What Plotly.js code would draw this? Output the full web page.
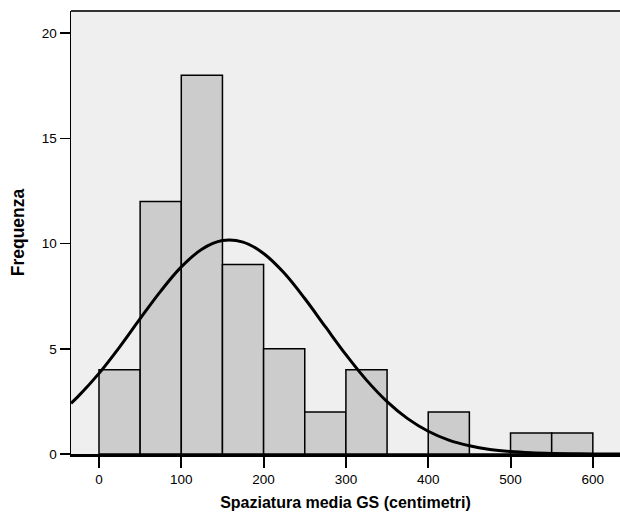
<!DOCTYPE html>
<html>
<head>
<meta charset="utf-8">
<script src="https://cdn.plot.ly/plotly-3.0.1.min.js"></script>
<style>html,body{margin:0;padding:0;background:#fff;}#chart{width:620px;height:518px;}</style>
</head>
<body>
<div id="chart"></div>
<script>
// Histogram bins (centimetri) and frequencies
var binStarts = [0, 50, 100, 150, 200, 250, 300, 350, 400, 450, 500, 550];
var binWidth = 50;
var counts = [4, 12, 18, 9, 5, 2, 4, 0, 2, 0, 1, 1];

// Normal curve
var curveX = [-34, -25, 0, 25, 50, 75, 100, 125, 150, 175, 200, 225, 250, 275, 300, 325, 350, 375, 400, 425, 450, 475, 500, 525, 550, 575, 600, 633];
var curveY = [2.41, 2.75, 3.83, 5.08, 6.43, 7.74, 8.89, 9.73, 10.14, 10.07, 9.53, 8.60, 7.39, 6.05, 4.72, 3.51, 2.49, 1.68, 1.08, 0.66, 0.39, 0.215, 0.114, 0.058, 0.028, 0.013, 0.005, 0.001];

var xTicks = [0, 100, 200, 300, 400, 500, 600];
var yTicks = [0, 5, 10, 15, 20];

var centers = binStarts.map(function(s){ return s + binWidth/2; });

var traces = [
  {
    type: 'bar', x: centers, y: counts, width: binWidth,
    marker: {color: '#cccccc', line: {color: '#000000', width: 1.5}},
    hoverinfo: 'x+y'
  },
  {
    type: 'scatter', mode: 'lines', x: curveX, y: curveY,
    line: {color: '#000000', width: 3, shape: 'spline'},
    hoverinfo: 'skip'
  }
];

var layout = {
  width: 620, height: 518,
  margin: {l: 71, r: 0, t: 11, b: 64},
  paper_bgcolor: '#ffffff',
  plot_bgcolor: '#efefef',
  showlegend: false,
  bargap: 0,
  font: {family: 'Liberation Sans, Arial, sans-serif', color: '#000000', size: 13},
  xaxis: {
    range: [-34, 633],
    tickvals: xTicks, ticktext: xTicks.map(String),
    ticks: 'outside', ticklen: 11, tickwidth: 2, tickcolor: '#000',
    showgrid: false, zeroline: false,
    showline: true, linecolor: '#000', linewidth: 2.5,
    tickfont: {size: 13.5},
    title: {text: 'Spaziatura media GS (centimetri)', font: {size: 16, weight: 'bold'}, standoff: 11}
  },
  yaxis: {
    range: [0, 21.05],
    tickvals: yTicks, ticktext: yTicks.map(String),
    ticks: 'outside', ticklen: 10, tickwidth: 1.5, tickcolor: '#000',
    showgrid: false, zeroline: false,
    showline: true, linecolor: '#000', linewidth: 1.5,
    tickfont: {size: 13.5},
    title: {text: 'Frequenza', font: {size: 17.5, weight: 'bold'}, standoff: 12}
  },
  shapes: [
    {type: 'line', xref: 'paper', yref: 'paper', x0: 0, x1: 1, y0: 1, y1: 1, line: {color: '#333333', width: 2}}
  ]
};

Plotly.newPlot('chart', traces, layout, {displayModeBar: false, staticPlot: true});
</script>
</body>
</html>
